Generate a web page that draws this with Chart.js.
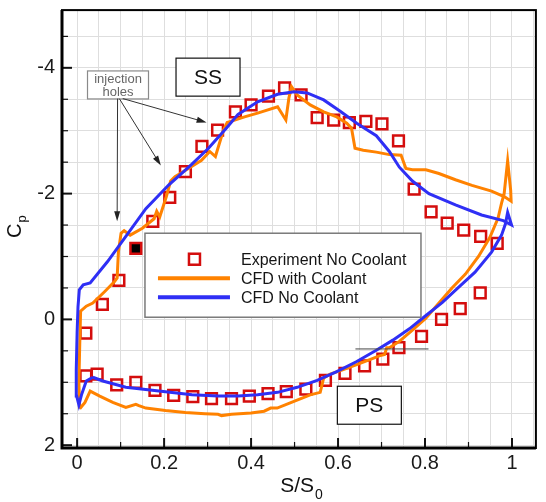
<!DOCTYPE html>
<html lang="en">
<head>
  <meta charset="UTF-8">
  <title>Cp distribution</title>
  <script src="https://cdn.jsdelivr.net/npm/chart.js"></script>
  <style>
    html, body {
      margin: 0;
      padding: 0;
      background: #fff;
    }
    #wrap {
      position: relative;
      width: 546px;
      height: 502px;
    }
  </style>
</head>
<body>
  <div id="wrap"><canvas id="chart" width="546" height="502"></canvas></div>

  <script>
    // experiment, suction side then pressure side
    const expS = [0.020, 0.058, 0.096, 0.135, 0.174, 0.213, 0.249, 0.287, 0.323, 0.364, 0.400, 0.440, 0.477,
      0.515, 0.552, 0.590, 0.626, 0.664, 0.701, 0.739, 0.775, 0.814, 0.851, 0.889, 0.928, 0.966,
      0.020, 0.046, 0.091, 0.135, 0.179, 0.222, 0.266, 0.309, 0.355, 0.396, 0.439, 0.481, 0.526,
      0.571, 0.616, 0.661, 0.703, 0.740, 0.792, 0.838, 0.881, 0.927];
    const expCp = [0.22, -0.24, -0.62, -1.13, -1.56, -1.94, -2.35, -2.75, -3.01, -3.30, -3.41, -3.55, -3.68,
      -3.57, -3.21, -3.17, -3.13, -3.15, -3.11, -2.84, -2.07, -1.71, -1.53, -1.42, -1.32, -1.21,
      0.90, 0.87, 1.04, 1.00, 1.13, 1.21, 1.23, 1.26, 1.26, 1.22, 1.18, 1.15, 1.11,
      0.97, 0.86, 0.74, 0.63, 0.45, 0.27, 0.00, -0.17, -0.42];
    const filledPoint = 3;

    // CFD with coolant (closed loop: LE -> SS -> TE -> PS -> LE)
    const coolS = [0.006, 0.004, 0.006, 0.008, 0.021, 0.036, 0.063, 0.086, 0.092, 0.095, 0.101, 0.108, 0.122,
      0.150, 0.177, 0.183, 0.190, 0.205, 0.215, 0.225, 0.256, 0.286, 0.305, 0.318, 0.336, 0.345, 0.385,
      0.415, 0.461, 0.480, 0.487, 0.493, 0.506, 0.536, 0.567, 0.597, 0.620, 0.631, 0.639, 0.658, 0.688,
      0.718, 0.745, 0.756, 0.771, 0.802, 0.832, 0.870, 0.908, 0.953, 0.983, 0.998, 0.997, 0.990, 0.982,
      0.976, 0.968, 0.949, 0.923, 0.893, 0.862, 0.832, 0.802, 0.771, 0.741, 0.718, 0.712, 0.707, 0.695,
      0.673, 0.643, 0.612, 0.582, 0.567, 0.559, 0.536, 0.500, 0.460, 0.445, 0.430, 0.400, 0.355, 0.332,
      0.324, 0.294, 0.249, 0.203, 0.158, 0.142, 0.135, 0.112, 0.082, 0.052, 0.030, 0.018, 0.006];
    const coolCp = [1.42, 1.00, 0.40, -0.13, -0.21, -0.26, -0.44, -0.60, -0.66, -1.08, -1.37, -1.41, -1.34,
      -1.45, -1.60, -1.72, -1.63, -1.95, -2.20, -2.27, -2.40, -2.53, -2.67, -2.59, -3.00, -3.13, -3.22,
      -3.28, -3.38, -3.17, -3.52, -3.70, -3.57, -3.41, -3.30, -3.22, -3.12, -3.04, -2.72, -2.69, -2.66,
      -2.62, -2.61, -2.40, -2.38, -2.38, -2.32, -2.22, -2.13, -2.04, -1.95, -1.88, -2.05, -2.52, -2.00,
      -1.85, -1.61, -1.30, -1.00, -0.72, -0.50, -0.26, -0.02, 0.17, 0.35, 0.45, 0.45, 0.56, 0.58,
      0.64, 0.72, 0.80, 0.87, 0.93, 1.16, 1.20, 1.30, 1.41, 1.41, 1.46, 1.49, 1.51, 1.53,
      1.51, 1.50, 1.48, 1.45, 1.41, 1.37, 1.35, 1.40, 1.32, 1.22, 1.14, 1.32, 1.42];

    // CFD without coolant
    const baseS = [0.036, 0.021, 0.010, 0.004, -0.001, -0.002, 0.000, 0.002, 0.005, 0.014, 0.030, 0.070,
      0.112, 0.158, 0.211, 0.264, 0.302, 0.343, 0.370, 0.415, 0.461, 0.499, 0.529, 0.567, 0.605, 0.643,
      0.688, 0.718, 0.741, 0.771, 0.809, 0.870, 0.930, 0.980, 0.999, 0.990, 0.985, 0.976, 0.953, 0.915,
      0.877, 0.840, 0.800, 0.764, 0.726, 0.688, 0.643, 0.597, 0.552, 0.506, 0.461, 0.415, 0.370, 0.324,
      0.264, 0.188, 0.112, 0.059, 0.036];
    const baseCp = [0.92, 0.98, 1.20, 1.36, 1.22, 0.80, 0.20, -0.20, -0.47, -0.55, -0.58, -0.92,
      -1.32, -1.76, -2.14, -2.47, -2.72, -3.04, -3.26, -3.46, -3.58, -3.62, -3.60, -3.49, -3.31, -3.12,
      -2.92, -2.67, -2.42, -2.20, -2.00, -1.82, -1.66, -1.57, -1.50, -1.70, -1.52, -1.34, -1.07, -0.75,
      -0.51, -0.27, -0.05, 0.15, 0.33, 0.49, 0.67, 0.83, 0.97, 1.08, 1.16, 1.20, 1.22, 1.22,
      1.20, 1.14, 1.08, 0.98, 0.92];

    const xLabels = [0, 0.2, 0.4, 0.6, 0.8, 1];
    const yLabels = [-4, -2, 0, 2];
    const seriesNames = ['Experiment No Coolant', 'CFD with Coolant', 'CFD No Coolant'];

    const RED = '#d40d0d';
    const ORANGE = '#ff8200';
    const BLUE = '#2f2ff5';
    const FONT = 'Arial, "Liberation Sans", sans-serif';

    const pts = (xs, ys) => xs.map((x, i) => ({ x: x, y: ys[i] }));
    const near = (list, v) => list.some(m => Math.abs(m - v) < 1e-6);

    const xGrid = [];
    for (let i = 0; i <= 21; i++) xGrid.push(Math.round(i * 5) / 100);
    const yGrid = [];
    for (let i = -9; i <= 4; i++) yGrid.push(i / 2);

    // fixed axis box, no extra room for edge labels
    const fixBox = size => s => {
      if (s.isHorizontal()) s.height = size; else s.width = size;
      s.paddingTop = 0;
      s.paddingBottom = 0;
      s.paddingLeft = 0;
      s.paddingRight = 0;
    };

    // boxes, arrows and titles drawn on top of the plot
    const decorations = {
      id: 'decorations',
      afterDraw(chart) {
        const ctx = chart.ctx;
        const sx = chart.scales.x, sy = chart.scales.y;
        const X = v => sx.getPixelForValue(v);
        const Y = v => sy.getPixelForValue(v);
        const a = chart.chartArea;

        ctx.save();

        // inward tick marks
        ctx.strokeStyle = '#111';
        yGrid.forEach(v => {
          const major = near(yLabels, v);
          ctx.lineWidth = major ? 2 : 1.2;
          ctx.beginPath();
          ctx.moveTo(a.left, Y(v));
          ctx.lineTo(a.left + (major ? 10 : 6), Y(v));
          ctx.stroke();
        });
        for (let i = 0; i <= 10; i++) {
          const v = i / 10;
          const major = i % 2 === 0;
          ctx.lineWidth = major ? 2 : 1.2;
          ctx.beginPath();
          ctx.moveTo(X(v), a.bottom);
          ctx.lineTo(X(v), a.bottom - (major ? 10 : 6));
          ctx.stroke();
        }

        // frame
        ctx.strokeStyle = '#000';
        ctx.lineWidth = 2;
        ctx.strokeRect(a.left, a.top, a.right - a.left, a.bottom - a.top);
        ctx.lineWidth = 3;
        ctx.beginPath();
        ctx.moveTo(a.left, a.top);
        ctx.lineTo(a.left, a.bottom);
        ctx.lineTo(a.right, a.bottom);
        ctx.stroke();

        // labelled boxes
        const labelBox = (s, cp, w, h, text, size) => {
          const cx = X(s), cy = Y(cp);
          ctx.fillStyle = '#fff';
          ctx.fillRect(cx - w / 2, cy - h / 2, w, h);
          ctx.strokeStyle = '#111';
          ctx.lineWidth = 1.2;
          ctx.strokeRect(cx - w / 2, cy - h / 2, w, h);
          ctx.fillStyle = '#111';
          ctx.font = size + 'px ' + FONT;
          ctx.textAlign = 'center';
          ctx.textBaseline = 'middle';
          ctx.fillText(text, cx, cy + 1);
        };
        labelBox(0.301, -3.852, 64, 38, 'SS', 21);
        labelBox(0.672, 1.365, 64, 38, 'PS', 21);

        // short reference line near PS
        ctx.strokeStyle = '#444';
        ctx.lineWidth = 1;
        ctx.beginPath();
        ctx.moveTo(X(0.640), Y(0.47));
        ctx.lineTo(X(0.808), Y(0.47));
        ctx.stroke();

        // injection holes callout
        const ix = X(0.094), iy = Y(-3.728);
        ctx.fillStyle = '#fff';
        ctx.fillRect(ix - 30.5, iy - 14, 61, 28);
        ctx.strokeStyle = '#8a8a8a';
        ctx.lineWidth = 1.2;
        ctx.strokeRect(ix - 30.5, iy - 14, 61, 28);
        ctx.fillStyle = '#666';
        ctx.font = '13px ' + FONT;
        ctx.textAlign = 'center';
        ctx.textBaseline = 'middle';
        ctx.fillText('injection', ix, iy - 6);
        ctx.fillText('holes', ix, iy + 7);

        const arrow = (s0, c0, s1, c1) => {
          const x0 = X(s0), y0 = Y(c0), x1 = X(s1), y1 = Y(c1);
          const ang = Math.atan2(y1 - y0, x1 - x0);
          ctx.strokeStyle = '#333';
          ctx.fillStyle = '#222';
          ctx.lineWidth = 1;
          ctx.beginPath();
          ctx.moveTo(x0, y0);
          ctx.lineTo(x1 - 8 * Math.cos(ang), y1 - 8 * Math.sin(ang));
          ctx.stroke();
          ctx.beginPath();
          ctx.moveTo(x1, y1);
          ctx.lineTo(x1 - 10 * Math.cos(ang) + 3 * Math.sin(ang), y1 - 10 * Math.sin(ang) - 3 * Math.cos(ang));
          ctx.lineTo(x1 - 10 * Math.cos(ang) - 3 * Math.sin(ang), y1 - 10 * Math.sin(ang) + 3 * Math.cos(ang));
          ctx.closePath();
          ctx.fill();
        };
        arrow(0.093, -3.511, 0.092, -1.56);
        arrow(0.097, -3.511, 0.1925, -2.446);
        arrow(0.105, -3.511, 0.2977, -3.131);

        // legend
        const lx = X(0.156), ly = Y(-1.37);
        const lw = 276, lh = 84;
        ctx.fillStyle = '#fff';
        ctx.fillRect(lx, ly, lw, lh);
        ctx.strokeStyle = '#7a7a7a';
        ctx.lineWidth = 1.5;
        ctx.strokeRect(lx, ly, lw, lh);
        const rows = [ly + 26, ly + 45, ly + 64];
        ctx.strokeStyle = RED;
        ctx.lineWidth = 2.5;
        ctx.strokeRect(lx + 44, rows[0] - 5.5, 11, 11);
        ctx.lineWidth = 4;
        ctx.strokeStyle = ORANGE;
        ctx.beginPath();
        ctx.moveTo(lx + 13, rows[1]);
        ctx.lineTo(lx + 85, rows[1]);
        ctx.stroke();
        ctx.strokeStyle = BLUE;
        ctx.beginPath();
        ctx.moveTo(lx + 13, rows[2]);
        ctx.lineTo(lx + 85, rows[2]);
        ctx.stroke();
        ctx.fillStyle = '#151515';
        ctx.font = '16px ' + FONT;
        ctx.textAlign = 'left';
        ctx.textBaseline = 'alphabetic';
        seriesNames.forEach((t, i) => ctx.fillText(t, lx + 96, rows[i] + 5.5));

        // axis titles with subscripts
        ctx.fillStyle = '#111';
        ctx.textBaseline = 'alphabetic';
        ctx.textAlign = 'left';
        ctx.font = '21px ' + FONT;
        const main = 'S/S';
        const mw = ctx.measureText(main).width;
        ctx.font = '14px ' + FONT;
        const subw = ctx.measureText('0').width;
        const tx = 301 - (mw + subw) / 2;
        ctx.font = '21px ' + FONT;
        ctx.fillText(main, tx, 492);
        ctx.font = '14px ' + FONT;
        ctx.fillText('0', tx + mw + 1, 499);

        ctx.translate(21, 238);
        ctx.rotate(-Math.PI / 2);
        ctx.font = '20px ' + FONT;
        ctx.fillText('C', 0, 0);
        const cw = ctx.measureText('C').width;
        ctx.font = '13px ' + FONT;
        ctx.fillText('p', cw + 1, 5);

        ctx.restore();
      }
    };

    new Chart(document.getElementById('chart'), {
      type: 'scatter',
      data: {
        datasets: [
          {
            label: seriesNames[0],
            data: pts(expS, expCp),
            showLine: false,
            pointStyle: 'rect',
            pointRadius: 7.6,
            pointBorderWidth: 2.5,
            borderColor: RED,
            pointBackgroundColor: expS.map((s, i) => i === filledPoint ? '#000' : 'rgba(0,0,0,0)'),
            order: 3
          },
          {
            label: seriesNames[1],
            data: pts(coolS, coolCp),
            showLine: true,
            borderColor: ORANGE,
            borderWidth: 3,
            pointRadius: 0,
            tension: 0,
            order: 2
          },
          {
            label: seriesNames[2],
            data: pts(baseS, baseCp),
            showLine: true,
            borderColor: BLUE,
            borderWidth: 3,
            pointRadius: 0,
            tension: 0,
            order: 1
          }
        ]
      },
      options: {
        responsive: false,
        animation: false,
        events: [],
        layout: { padding: { top: 8, right: 5, left: 0, bottom: 0 } },
        plugins: {
          legend: { display: false },
          tooltip: { enabled: false }
        },
        scales: {
          x: {
            type: 'linear',
            min: -0.0348,
            max: 1.055,
            afterFit: fixBox(54),
            afterBuildTicks: s => { s.ticks = xGrid.map(v => ({ value: v })); },
            grid: { color: '#dedede', lineWidth: 1, drawTicks: false },
            border: { display: false },
            ticks: {
              autoSkip: false,
              maxRotation: 0,
              padding: 3,
              color: '#1a1a1a',
              font: { family: FONT, size: 20 },
              callback: v => near(xLabels, v) ? String(+v.toFixed(1)) : ''
            }
          },
          y: {
            type: 'linear',
            reverse: true,
            min: -4.918,
            max: 2.045,
            afterFit: fixBox(62),
            afterBuildTicks: s => { s.ticks = yGrid.map(v => ({ value: v })); },
            grid: { color: '#dedede', lineWidth: 1, drawTicks: false },
            border: { display: false },
            ticks: {
              autoSkip: false,
              padding: 7,
              color: '#1a1a1a',
              font: { family: FONT, size: 20 },
              callback: v => near(yLabels, v) ? String(v) : ''
            }
          }
        }
      },
      plugins: [decorations]
    });
  </script>
</body>
</html>
